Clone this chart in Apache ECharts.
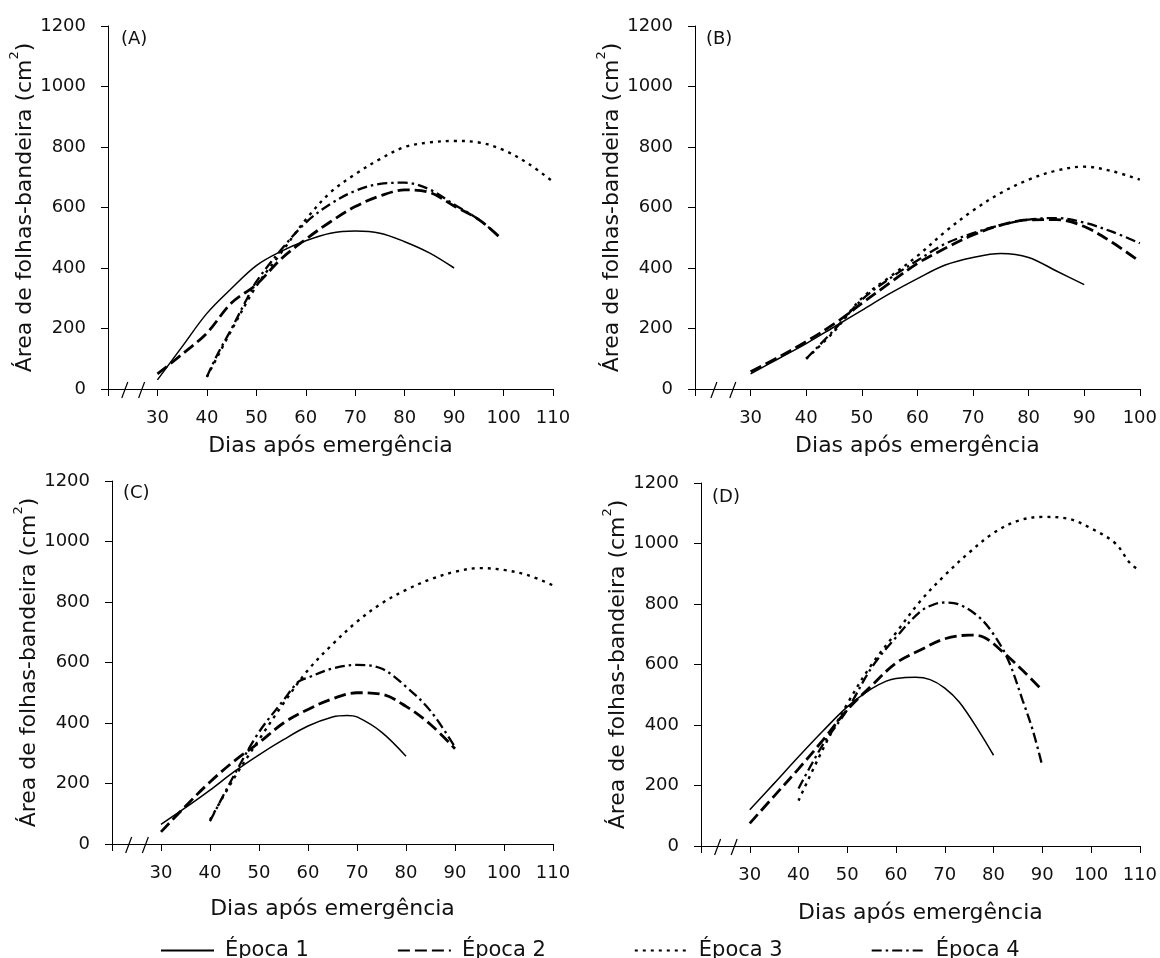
<!DOCTYPE html>
<html>
<head>
<meta charset="utf-8">
<script src="https://cdn.jsdelivr.net/npm/echarts@6/dist/echarts.min.js"></script>
<style>
  html, body { margin: 0; padding: 0; background: #fff; }
  #chart { width: 1160px; height: 958px; }
</style>
</head>
<body>
<div id="chart"></div>
<script>
// época names (legend)
const epocas = ['Época 1', 'Época 2', 'Época 3', 'Época 4']
const panelLabels = ['(A)', '(B)', '(C)', '(D)']
const xMaxByPanel = [110, 100, 110, 110]

// Panel A
const diasA1 = [30, 35, 40, 45, 50, 55, 60, 65, 70, 75, 80, 85, 90]
const areaA1 = [30, 140, 250, 333, 408, 455, 490, 515, 522, 515, 487, 450, 400]
const diasA2 = [30, 35, 40, 45, 50, 55, 60, 65, 70, 75, 80, 85, 90, 95, 99]
const areaA2 = [50, 115, 185, 285, 345, 430, 495, 553, 603, 638, 658, 650, 605, 560, 505]
const diasA3 = [40, 45, 50, 55, 60, 65, 70, 75, 80, 85, 90, 95, 100, 105, 110]
const areaA3 = [40, 195, 340, 450, 560, 650, 710, 760, 800, 815, 820, 815, 790, 745, 685]
const diasA4 = [40, 42, 45, 48, 50, 55, 60, 65, 70, 75, 80, 85, 90, 95, 99]
const areaA4 = [40, 110, 200, 295, 355, 460, 550, 612, 655, 678, 682, 660, 610, 560, 505]

// Panel B
const diasB1 = [30, 35, 40, 45, 50, 55, 60, 65, 70, 75, 80, 85, 90]
const areaB1 = [50, 100, 150, 205, 260, 315, 365, 410, 435, 448, 435, 390, 345]
const diasB2 = [30, 35, 40, 45, 50, 55, 60, 65, 70, 75, 80, 85, 90, 95, 100]
const areaB2 = [57, 105, 157, 215, 283, 350, 415, 465, 509, 542, 559, 560, 537, 485, 421]
const diasB3 = [40, 45, 50, 55, 60, 65, 70, 75, 80, 85, 90, 95, 100]
const areaB3 = [100, 190, 300, 370, 440, 520, 590, 648, 692, 722, 735, 720, 692]
const diasB4 = [40, 45, 50, 55, 60, 65, 70, 75, 80, 85, 90, 95, 100]
const areaB4 = [100, 195, 295, 365, 425, 480, 515, 542, 560, 565, 550, 520, 482]

// Panel C
const diasC1 = [30, 35, 40, 45, 50, 55, 60, 65, 68, 70, 75, 80]
const areaC1 = [65, 120, 178, 240, 295, 345, 390, 420, 425, 420, 370, 290]
const diasC2 = [30, 35, 40, 45, 50, 55, 60, 65, 70, 75, 80, 85, 90]
const areaC2 = [40, 125, 205, 275, 335, 400, 445, 480, 500, 495, 455, 395, 315]
const diasC3 = [40, 45, 50, 55, 60, 65, 70, 75, 80, 85, 90, 95, 100, 105, 110]
const areaC3 = [80, 220, 345, 465, 575, 660, 735, 795, 840, 875, 900, 912, 906, 888, 855]
const diasC4 = [40, 45, 50, 55, 58, 60, 65, 70, 75, 80, 85, 90]
const areaC4 = [75, 230, 370, 475, 536, 550, 580, 592, 580, 520, 440, 320]

// Panel D
const diasD1 = [30, 35, 40, 45, 50, 55, 58, 60, 64, 67, 70, 73, 77, 80]
const areaD1 = [120, 207, 295, 380, 460, 520, 545, 554, 558, 550, 522, 475, 380, 300]
const diasD2 = [30, 35, 40, 45, 50, 55, 60, 65, 70, 75, 78, 82, 86, 90]
const areaD2 = [75, 165, 255, 350, 450, 530, 605, 648, 685, 697, 690, 640, 580, 515]
const diasD3 = [40, 45, 50, 55, 60, 65, 70, 75, 80, 85, 90, 95, 100, 105, 108, 110]
const areaD3 = [150, 320, 470, 600, 705, 810, 895, 970, 1035, 1075, 1088, 1083, 1050, 1000, 935, 910]
const diasD4 = [40, 45, 50, 55, 60, 65, 68, 70, 73, 77, 80, 83, 86, 88, 90]
const areaD4 = [190, 335, 450, 590, 690, 775, 800, 805, 798, 757, 700, 615, 480, 385, 265]

const panels = [
  [[diasA1, areaA1], [diasA2, areaA2], [diasA3, areaA3], [diasA4, areaA4]],
  [[diasB1, areaB1], [diasB2, areaB2], [diasB3, areaB3], [diasB4, areaB4]],
  [[diasC1, areaC1], [diasC2, areaC2], [diasC3, areaC3], [diasC4, areaC4]],
  [[diasD1, areaD1], [diasD2, areaD2], [diasD3, areaD3], [diasD4, areaD4]],
]

const FONT = 'DejaVu Sans'

const grids = [
  { left: 108, top: 26, width: 445, height: 363 },
  { left: 695, top: 26, width: 445, height: 363 },
  { left: 112, top: 481, width: 441, height: 363 },
  { left: 701, top: 483, width: 440, height: 363 },
]
const xNameGaps = [46, 46, 54, 56]
const labelPos = [
  { left: 121, top: 30 },
  { left: 706, top: 30 },
  { left: 123, top: 484 },
  { left: 712, top: 488 },
]

const lineStyles = [
  { type: 'solid', width: 1.5 },
  { type: [12, 5], width: 2.8 },
  { type: [3, 5], width: 2.4 },
  { type: [10, 4, 2.5, 4], width: 2.3 },
]

const chart = echarts.init(document.getElementById('chart'))

const xAxes = grids.map((g, i) => ({
  type: 'value',
  gridIndex: i,
  min: 20,
  max: xMaxByPanel[i],
  interval: 10,
  name: 'Dias após emergência',
  nameLocation: 'middle',
  nameGap: xNameGaps[i],
  nameTextStyle: { color: '#111', fontSize: 22, fontFamily: FONT },
  axisLine: { lineStyle: { color: '#000', width: 1 } },
  axisTick: { length: 7, lineStyle: { color: '#000' } },
  axisLabel: {
    color: '#111', fontSize: 18, fontFamily: FONT, margin: 20,
    formatter: (v) => (v === 20 ? '' : String(v)),
  },
  splitLine: { show: false },
}))

const yAxes = grids.map((g, i) => ({
  type: 'value',
  gridIndex: i,
  min: 0,
  max: 1200,
  interval: 200,
  name: '{n|Área de folhas-bandeira (cm}{s|2}{n|)}',
  nameLocation: 'middle',
  nameGap: 60,
  nameTextStyle: {
    color: '#111',
    rich: {
      n: { fontSize: 22, fontFamily: FONT, color: '#111', lineHeight: 28, verticalAlign: 'bottom' },
      s: { fontSize: 13, fontFamily: FONT, color: '#111', lineHeight: 28, verticalAlign: 'top' },
    },
  },
  axisLine: { show: true, lineStyle: { color: '#000', width: 1 } },
  axisTick: { show: true, length: 7, lineStyle: { color: '#000' } },
  axisLabel: { color: '#111', fontSize: 18, fontFamily: FONT, margin: 22, formatter: (v) => String(v) },
  splitLine: { show: false },
}))

const series = []
panels.forEach((panel, p) => {
  panel.forEach(([dias, area], k) => {
    series.push({
      name: epocas[k],
      type: 'line',
      xAxisIndex: p,
      yAxisIndex: p,
      smooth: 0.35,
      symbol: 'none',
      lineStyle: { color: '#000', ...lineStyles[k] },
      itemStyle: { color: '#000' },
      data: dias.map((d, j) => [d, area[j]]),
    })
  })
})

chart.setOption({
  animation: false,
  backgroundColor: '#fff',
  grid: grids,
  xAxis: xAxes,
  yAxis: yAxes,
  title: panelLabels.map((t, i) => ({
    text: t,
    left: labelPos[i].left,
    top: labelPos[i].top,
    padding: 0,
    textStyle: { fontSize: 18, fontWeight: 'normal', fontFamily: FONT, color: '#111' },
  })),
  legend: {
    data: epocas,
    left: 155,
    top: 935,
    itemWidth: 53,
    itemHeight: 14,
    itemGap: 88,
    itemStyle: { opacity: 0 },
    textStyle: { fontSize: 21, fontFamily: FONT, color: '#111', padding: [0, 0, 0, 6] },
  },
  series,
})

// axis break marks ( / / ) on each x axis, placed through the axis scale
const breaks = []
grids.forEach((g, i) => {
  const y0 = chart.convertToPixel({ yAxisIndex: i }, 0)
  ;[23.4, 26.8].forEach((xv) => {
    const cx = chart.convertToPixel({ xAxisIndex: i }, xv)
    breaks.push({
      type: 'line',
      shape: { x1: cx - 3, y1: y0 + 9, x2: cx + 3, y2: y0 - 7 },
      style: { stroke: '#000', lineWidth: 1.2 },
    })
  })
})
chart.setOption({ graphic: breaks })
</script>
</body>
</html>
